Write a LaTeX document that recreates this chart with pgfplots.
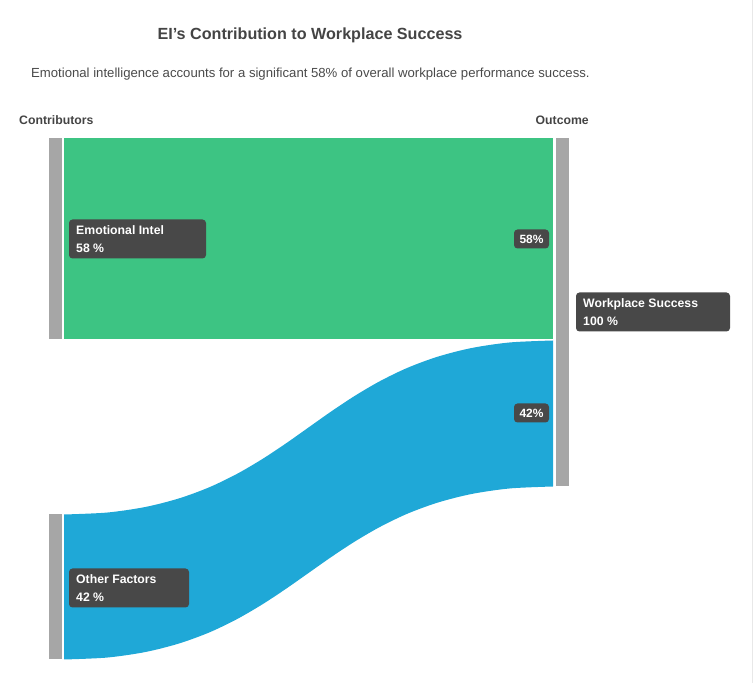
\documentclass[border=0pt]{standalone}
\usepackage{pgfplots}
\pgfplotsset{compat=1.18}
\usepackage{pgfplotstable}
\usepgfplotslibrary{fillbetween}
\usepackage{fontspec}
\setmainfont{Liberation Sans}
\definecolor{eigreen}{HTML}{3DC483}
\definecolor{othblue}{HTML}{1FA8D7}
\definecolor{nodegray}{HTML}{A6A6A6}
\definecolor{boxgray}{HTML}{484848}
\definecolor{titlegray}{HTML}{444444}
\definecolor{subgray}{HTML}{4A4A4A}

% flow of "Other Factors" (42%) : top and bottom edges of the ribbon, in px
\pgfplotstableread{
x     top     bot
64    514     659
107.1 512.05  657.06
145.2 506.52  651.56
178.9 497.94  643.03
209.2 486.81  631.97
236.5 473.64  618.87
261.7 458.95  604.27
285.5 443.23  588.63
308.5 427     572.5
331.5 410.77  556.36
355.3 395.05  540.73
380.5 380.36  526.13
407.8 367.19  513.03
438.1 356.06  501.97
471.8 347.48  493.44
509.9 341.95  487.94
553   340     486
}\othertable

\begin{document}
\begin{tikzpicture}
\begin{axis}[
  scale only axis, width=753bp, height=682bp,
  xmin=0, xmax=753, ymin=0, ymax=682, y dir=reverse,
  axis lines=none, clip=false,
]
% extent of the picture
\path (rel axis cs:0,0) rectangle (rel axis cs:1,1);
\addplot[draw={rgb,255:red,232;green,232;blue,232}, line width=1bp] coordinates {(752,0) (752,682)};

% Emotional Intel flow (58%)
\addplot[fill=eigreen, draw=none] coordinates {(64,138) (553,138) (553,339) (64,339)};

% Other Factors flow (42%)
\addplot[name path=otop, draw=none, smooth] table[x=x, y=top] {\othertable};
\addplot[name path=obot, draw=none, smooth] table[x=x, y=bot] {\othertable};
\addplot[fill=othblue, draw=none] fill between[of=otop and obot];

% node bars
\addplot[fill=nodegray, draw=none] coordinates {(49,138) (62,138) (62,339) (49,339)};
\addplot[fill=nodegray, draw=none] coordinates {(49,514) (62,514) (62,659) (49,659)};
\addplot[fill=nodegray, draw=none] coordinates {(556,138) (569,138) (569,486) (556,486)};

% titles
\node[anchor=center, text=titlegray, font=\fontsize{16.2}{19}\selectfont\bfseries] at (axis cs:310,35) {EI's Contribution to Workplace Success};
\node[anchor=west, inner sep=0pt, text=subgray, font=\fontsize{13.2}{15}\selectfont] at (axis cs:31,73.5) {Emotional intelligence accounts for a significant 58\% of overall workplace performance success.};
\node[anchor=west, inner sep=0pt, text=titlegray, font=\fontsize{12.3}{14}\selectfont\bfseries] at (axis cs:19,119.5) {Contributors};
\node[anchor=east, inner sep=0pt, text=titlegray, font=\fontsize{12.3}{14}\selectfont\bfseries] at (axis cs:589,119.5) {Outcome};

% label boxes
\fill[boxgray, rounded corners=3.5bp] (axis cs:69,219) rectangle (axis cs:206,258);
\node[anchor=base west, inner sep=0pt, text=white, font=\fontsize{12.3}{14}\selectfont\bfseries] at (axis cs:76,234) {Emotional Intel};
\node[anchor=base west, inner sep=0pt, text=white, font=\fontsize{12.3}{14}\selectfont\bfseries] at (axis cs:76,252) {58 \%};

\fill[boxgray, rounded corners=3.5bp] (axis cs:69,568) rectangle (axis cs:189,607);
\node[anchor=base west, inner sep=0pt, text=white, font=\fontsize{12.3}{14}\selectfont\bfseries] at (axis cs:76,583) {Other Factors};
\node[anchor=base west, inner sep=0pt, text=white, font=\fontsize{12.3}{14}\selectfont\bfseries] at (axis cs:76,601) {42 \%};

\fill[boxgray, rounded corners=3.5bp] (axis cs:576,292) rectangle (axis cs:730,331);
\node[anchor=base west, inner sep=0pt, text=white, font=\fontsize{12.3}{14}\selectfont\bfseries] at (axis cs:583,307) {Workplace Success};
\node[anchor=base west, inner sep=0pt, text=white, font=\fontsize{12.3}{14}\selectfont\bfseries] at (axis cs:583,325) {100 \%};

\fill[boxgray, rounded corners=3.5bp] (axis cs:514,229) rectangle (axis cs:549,248);
\node[anchor=center, inner sep=0pt, text=white, font=\fontsize{12}{13}\selectfont\bfseries] at (axis cs:531.5,238.5) {58\%};
\fill[boxgray, rounded corners=3.5bp] (axis cs:514,403) rectangle (axis cs:549,422);
\node[anchor=center, inner sep=0pt, text=white, font=\fontsize{12}{13}\selectfont\bfseries] at (axis cs:531.5,412.5) {42\%};
\end{axis}
\end{tikzpicture}
\end{document}
